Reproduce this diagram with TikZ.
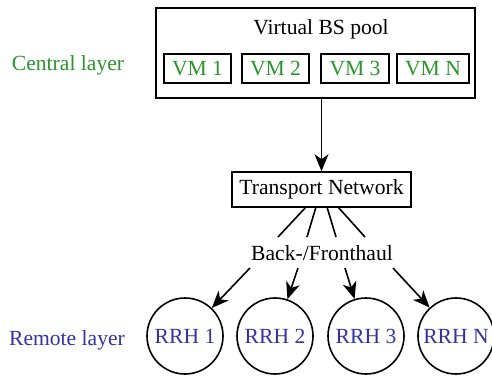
\documentclass[tikz,border=0pt]{standalone}
\usepackage{fontspec}
\setmainfont{Liberation Serif}
\usetikzlibrary{arrows.meta}
\definecolor{cgreen}{RGB}{40,150,40}
\definecolor{cblue}{RGB}{50,50,170}
\begin{document}
\begin{tikzpicture}[x=1pt,y=-1pt,
  every node/.style={font=\fontsize{21.6}{26}\selectfont, inner sep=0pt},
  box/.style={draw, line width=1.6pt, rectangle},
  vm/.style={box, text=cgreen, minimum height=29pt},
  rrh/.style={draw, line width=1.6pt, circle, minimum size=76pt, text=cblue},
  link/.style={line width=1.6pt},
  arr/.style={line width=1.6pt, -{Stealth[length=17pt,width=14pt,inset=5pt]}}]
\useasboundingbox (0,0) rectangle (492,381);
\node[box, minimum width=319pt, minimum height=90pt] (pool) at (315.5,53) {};
\node (title) at (321,29) {Virtual BS pool};
\node[vm, minimum width=67pt] (vm1) at (197.5,68.5) {VM 1};
\node[vm, minimum width=67pt] (vm2) at (275.5,68.5) {VM 2};
\node[vm, minimum width=68pt] (vm3) at (355,68.5) {VM 3};
\node[vm, minimum width=72pt] (vmn) at (433,68.5) {VM N};
\node[text=cgreen] (central) at (68,65) {Central layer};
\node[box, minimum width=179pt, minimum height=35pt] (tn) at (321.5,189.5) {Transport Network};
\draw[arr] (pool.south -| tn.north) -- (tn.north);
\node (bf) at (322,253) {Back-/Fronthaul};
\coordinate (t1) at (306,207); \coordinate (b1) at (278,237);
\coordinate (t2) at (316,207); \coordinate (b2) at (307,237);
\coordinate (t3) at (327,207); \coordinate (b3) at (336,237);
\coordinate (t4) at (338,207); \coordinate (b4) at (365,237);
\foreach \i in {1,2,3,4} \draw[link] (t\i) -- (b\i);
\node[rrh] (r1) at (185,336) {RRH 1};
\node[rrh] (r2) at (275,336) {RRH 2};
\node[rrh] (r3) at (366,336) {RRH 3};
\node[rrh] (r4) at (456,336) {RRH N};
\node[text=cblue] (remote) at (67,340) {Remote layer};
\coordinate (a1) at (250,268);
\coordinate (a2) at (298,268);
\coordinate (a3) at (345,268);
\coordinate (a4) at (393,268);
\foreach \i in {1,2,3,4} \draw[arr] (a\i) -- (r\i);
\end{tikzpicture}
\end{document}
